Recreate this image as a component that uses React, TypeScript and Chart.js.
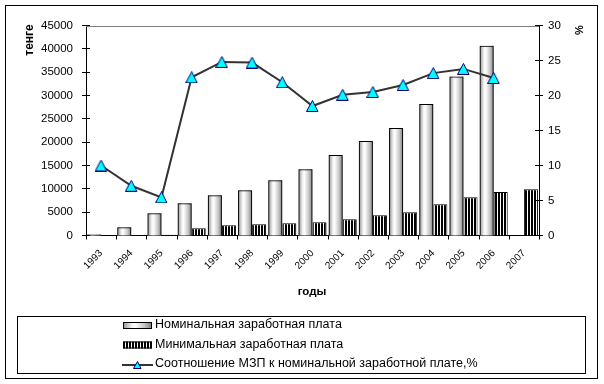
import React, { useEffect, useRef } from "react";
import { Chart, registerables } from "chart.js";

Chart.register(...registerables);

const years = ["1993", "1994", "1995", "1996", "1997", "1998", "1999", "2000", "2001", "2002", "2003", "2004", "2005", "2006", "2007"];
const nominalWage = [200, 1760, 4770, 6920, 8630, 9700, 11860, 14220, 17230, 20230, 23030, 28180, 34050, 40640, null];
const minimumWage = [null, 60, 180, 1550, 2190, 2400, 2620, 2830, 3480, 4340, 4980, 6700, 8200, 9340, 9920];
const ratioPercent = [10.0, 7.1, 5.45, 22.6, 24.8, 24.7, 21.9, 18.5, 20.1, 20.5, 21.5, 23.2, 23.8, 22.5, null];

const leftAxisMax = 45000;
const leftAxisStep = 5000;
const rightAxisMax = 30;
const rightAxisStep = 5;

const leftAxisTitle = "тенге";
const rightAxisTitle = "%";
const xAxisTitle = "годы";
const legendLabels = [
  "Номинальная заработная плата",
  "Минимальная заработная плата",
  "Соотношение МЗП к номинальной заработной плате,%",
];

const FONT = '"Liberation Sans", Arial, sans-serif';

function makeStripePattern(): CanvasPattern | string {
  const c = document.createElement("canvas");
  c.width = 3;
  c.height = 1;
  const g = c.getContext("2d");
  if (!g) return "#000";
  g.fillStyle = "#ffffff";
  g.fillRect(0, 0, 3, 1);
  g.fillStyle = "#000000";
  g.fillRect(0, 0, 2, 1);
  const p = g.createPattern(c, "repeat");
  return p || "#000";
}

function makeTriangle(size: number): HTMLCanvasElement {
  const c = document.createElement("canvas");
  c.width = size + 1;
  c.height = size;
  const g = c.getContext("2d");
  if (g) {
    g.beginPath();
    g.moveTo((size + 1) / 2, 0.5);
    g.lineTo(size + 0.5 - 0.5, size - 0.5);
    g.lineTo(0.5, size - 0.5);
    g.closePath();
    g.fillStyle = "#00ffff";
    g.fill();
    g.strokeStyle = "#000080";
    g.lineWidth = 1;
    g.stroke();
  }
  return c;
}

function barGradient(ctx: CanvasRenderingContext2D, x0: number, x1: number) {
  const gr = ctx.createLinearGradient(x0, 0, x1, 0);
  gr.addColorStop(0, "#8e8e8e");
  gr.addColorStop(0.3, "#f2f2f2");
  gr.addColorStop(0.42, "#ffffff");
  gr.addColorStop(0.75, "#c4c4c4");
  gr.addColorStop(1, "#7a7a7a");
  return gr;
}

export default function App() {
  const canvasRef = useRef<HTMLCanvasElement | null>(null);

  useEffect(() => {
    document.body.style.margin = "0";
    const canvas = canvasRef.current;
    if (!canvas) return;
    const stripes = makeStripePattern();
    const tri = makeTriangle(12);
    const legendTri = makeTriangle(8);

    const decor = {
      id: "decor",
      beforeDatasetDraw(chart: any, args: any) {
        if (args.index !== 0) return;
        const ctx = chart.ctx as CanvasRenderingContext2D;
        ctx.save();
        args.meta.data.forEach((el: any, i: number) => {
          if (nominalWage[i] == null) return;
          const p = el.getProps(["x", "y", "base", "width"], true);
          const left = p.x - p.width / 2;
          ctx.fillStyle = barGradient(ctx, left, left + p.width);
          ctx.fillRect(left, p.y, p.width, p.base - p.y);
        });
        ctx.restore();
      },
      afterDraw(chart: any) {
        const ctx = chart.ctx as CanvasRenderingContext2D;
        const area = chart.chartArea;
        const yS = chart.scales.y;
        const y1S = chart.scales.y1;
        ctx.save();
        ctx.lineWidth = 1;
        // top plot line
        ctx.strokeStyle = "#808080";
        ctx.beginPath();
        ctx.moveTo(area.left, Math.round(area.top) + 0.5);
        ctx.lineTo(area.right, Math.round(area.top) + 0.5);
        ctx.stroke();
        // tick marks
        ctx.strokeStyle = "#000";
        ctx.beginPath();
        for (let v = 0; v <= leftAxisMax; v += leftAxisStep) {
          const py = Math.round(yS.getPixelForValue(v) - 0.5) + 0.5;
          ctx.moveTo(Math.round(area.left) - 4, py);
          ctx.lineTo(Math.round(area.left) + 4, py);
        }
        for (let v = 0; v <= rightAxisMax; v += rightAxisStep) {
          const py = Math.round(y1S.getPixelForValue(v) - 0.5) + 0.5;
          ctx.moveTo(Math.round(area.right) - 4, py);
          ctx.lineTo(Math.round(area.right) + 4, py);
        }
        const n = years.length;
        for (let i = 0; i <= n; i++) {
          const px = Math.round(area.left + (i * (area.right - area.left)) / n) + 0.5;
          ctx.moveTo(px, area.bottom);
          ctx.lineTo(px, area.bottom + 4);
        }
        ctx.stroke();

        // axis titles
        ctx.fillStyle = "#000";
        ctx.font = `bold 12px ${FONT}`;
        ctx.textAlign = "center";
        ctx.textBaseline = "middle";
        ctx.save();
        ctx.translate(30, 40);
        ctx.rotate(-Math.PI / 2);
        ctx.fillText(leftAxisTitle, 0, 0);
        ctx.restore();
        ctx.save();
        ctx.font = `bold 11px ${FONT}`;
        ctx.translate(580, 30);
        ctx.rotate(-Math.PI / 2);
        ctx.fillText(rightAxisTitle, 0, 0);
        ctx.restore();
        ctx.font = `bold 11.5px ${FONT}`;
        ctx.fillText(xAxisTitle, 312, 292);

        // outer border
        ctx.strokeStyle = "#000";
        ctx.strokeRect(5.5, 5.5, 592, 373);
        // legend box
        ctx.strokeRect(17.5, 316.5, 568, 57);

        // legend items
        const sx = 123;
        const sw = 29;
        const rows = [325, 344.5, 364];
        // row 1
        ctx.fillStyle = barGradient(ctx, sx, sx + sw);
        ctx.fillRect(sx, rows[0] - 3, sw, 6);
        ctx.strokeRect(sx + 0.5, rows[0] - 3 + 0.5, sw - 1, 6);
        // row 2
        ctx.fillStyle = stripes as any;
        ctx.fillRect(sx, rows[1] - 3, sw, 7);
        ctx.strokeRect(sx + 0.5, rows[1] - 3 + 0.5, sw - 1, 6);
        // row 3
        ctx.strokeStyle = "#333";
        ctx.lineWidth = 2;
        ctx.beginPath();
        ctx.moveTo(sx - 1, rows[2] + 1);
        ctx.lineTo(sx + sw + 1, rows[2] + 1);
        ctx.stroke();
        ctx.drawImage(legendTri, sx + sw / 2 - legendTri.width / 2, rows[2] - 3);

        ctx.fillStyle = "#000";
        ctx.font = `12.5px ${FONT}`;
        ctx.textAlign = "left";
        ctx.textBaseline = "middle";
        legendLabels.forEach((t, i) => ctx.fillText(t, 155, rows[i]));
        ctx.restore();
      },
    };

    const chart = new Chart(canvas, {
      type: "bar",
      data: {
        labels: years,
        datasets: [
          {
            type: "bar",
            label: legendLabels[0],
            data: nominalWage as any,
            yAxisID: "y",
            backgroundColor: "rgba(0,0,0,0)",
            borderColor: "#000",
            borderWidth: 1,
            categoryPercentage: 0.93,
            barPercentage: 1,
            order: 2,
          },
          {
            type: "bar",
            label: legendLabels[1],
            data: minimumWage as any,
            yAxisID: "y",
            backgroundColor: stripes as any,
            borderColor: "#000",
            borderWidth: 1,
            categoryPercentage: 0.93,
            barPercentage: 1,
            order: 2,
          },
          {
            type: "line",
            label: legendLabels[2],
            data: ratioPercent as any,
            yAxisID: "y1",
            borderColor: "#333333",
            borderWidth: 2,
            pointStyle: tri as any,
            pointRadius: 6,
            spanGaps: false,
            tension: 0,
            order: 1,
          } as any,
        ],
      },
      options: {
        responsive: false,
        maintainAspectRatio: false,
        animation: false,
        layout: { padding: { top: 25.5, left: 0, right: 0, bottom: 0 } },
        plugins: { legend: { display: false }, tooltip: { enabled: false } },
        scales: {
          x: {
            type: "category",
            offset: true,
            grid: { display: false, drawTicks: false, offset: true },
            border: { display: true, color: "#000", width: 1 },
            ticks: {
              autoSkip: false,
              maxRotation: 45,
              minRotation: 45,
              color: "#000",
              padding: 12,
              font: { family: FONT, size: 10 },
            },
            afterFit: (s: any) => {
              s.height = 384 - 235.5;
            },
          },
          y: {
            position: "left",
            min: 0,
            max: leftAxisMax,
            grid: { display: false, drawTicks: false },
            border: { display: true, color: "#000", width: 1 },
            ticks: {
              stepSize: leftAxisStep,
              color: "#000",
              padding: 13,
              font: { family: FONT, size: 11.5 },
              callback: (v: any) => String(v),
            },
            afterFit: (s: any) => {
              s.width = 86;
            },
          },
          y1: {
            position: "right",
            min: 0,
            max: rightAxisMax,
            grid: { display: false, drawTicks: false },
            border: { display: true, color: "#000", width: 1 },
            ticks: {
              stepSize: rightAxisStep,
              color: "#000",
              padding: 9,
              font: { family: FONT, size: 11.5 },
              callback: (v: any) => String(v),
            },
            afterFit: (s: any) => {
              s.width = 604 - 539;
            },
          },
        },
      },
      plugins: [decor as any],
    });

    return () => {
      chart.destroy();
    };
  }, []);

  return <canvas ref={canvasRef} width={604} height={384} style={{ display: "block" }} />;
}
